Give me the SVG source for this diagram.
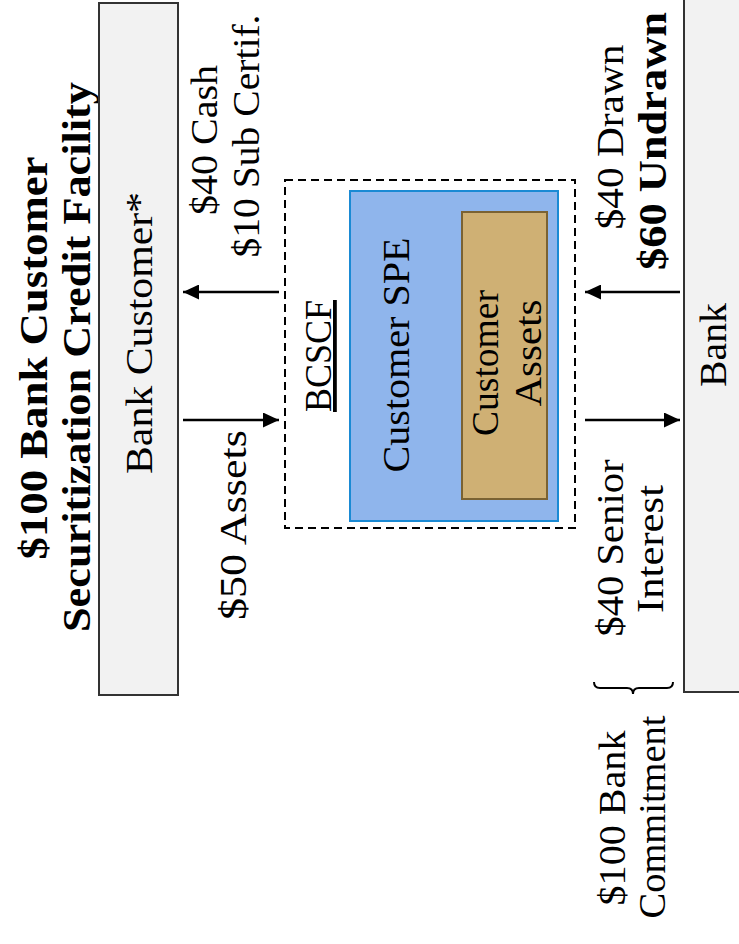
<svg xmlns="http://www.w3.org/2000/svg" width="739" height="944" viewBox="0 0 739 944">
<style>
text{font-family:"Liberation Serif","Times New Roman",serif;fill:#000;text-anchor:middle}
.r{font-size:38px}
.b{font-size:40px;font-weight:bold}
.box{fill:#f2f2f2;stroke:#333;stroke-width:2}
.arr{stroke:#000;stroke-width:2.5;fill:none;marker-end:url(#ah)}
</style>
<defs>
<marker id="ah" markerWidth="16" markerHeight="15" refX="16" refY="7.5" orient="auto" markerUnits="userSpaceOnUse">
<path d="M0,0 L16,7.5 L0,15 Z" fill="#000"/>
</marker>
</defs>
<rect width="739" height="944" fill="#fff"/>
<g id="title">
<text class="b" transform="translate(47,358) rotate(-90)" textLength="403" lengthAdjust="spacingAndGlyphs">$100 Bank Customer</text>
<text class="b" transform="translate(90,357) rotate(-90)" textLength="550" lengthAdjust="spacingAndGlyphs">Securitization Credit Facility</text>
</g>
<g id="bank-customer">
<rect class="box" x="99" y="3" width="79" height="692"/>
<text class="r" transform="translate(152,333) rotate(-90)" textLength="282" lengthAdjust="spacingAndGlyphs">Bank Customer*</text>
</g>
<g id="bcscf">
<rect x="285" y="180" width="290" height="348" fill="none" stroke="#000" stroke-width="2" stroke-dasharray="8,5"/>
<text class="r" transform="translate(331,356) rotate(-90)" textLength="112" lengthAdjust="spacingAndGlyphs" text-decoration="underline">BCSCF</text>
</g>
<g id="customer-spe">
<rect x="350" y="191" width="208" height="330" fill="#8fb5ec" stroke="#1a8ad4" stroke-width="2"/>
<text class="r" transform="translate(409,355) rotate(-90)" textLength="235" lengthAdjust="spacingAndGlyphs">Customer SPE</text>
</g>
<g id="customer-assets">
<rect x="462" y="212" width="85" height="287" fill="#cfb074" stroke="#7a6233" stroke-width="2"/>
<text class="r" transform="translate(498,363) rotate(-90)" textLength="146" lengthAdjust="spacingAndGlyphs">Customer</text>
<text class="r" transform="translate(541,353) rotate(-90)" textLength="107" lengthAdjust="spacingAndGlyphs">Assets</text>
</g>
<g id="bank">
<rect class="box" x="684" y="-3" width="70" height="695"/>
<text class="r" transform="translate(726,345) rotate(-90)" textLength="84" lengthAdjust="spacingAndGlyphs">Bank</text>
</g>
<g id="connectors">
<line class="arr" x1="279" y1="292" x2="183" y2="292"/>
<line class="arr" x1="183" y1="420" x2="279" y2="420"/>
<line class="arr" x1="680" y1="292" x2="585" y2="292"/>
<line class="arr" x1="585" y1="420" x2="680" y2="420"/>
<path d="M594,682 Q594,688 600,688 L627,688 Q633,688 633,694 Q633,688 639,688 L667,688 Q673,688 673,682" fill="none" stroke="#000" stroke-width="2"/>
</g>
<g id="labels">
<text class="r" transform="translate(217,140) rotate(-90)" textLength="150" lengthAdjust="spacingAndGlyphs">$40 Cash</text>
<text class="r" transform="translate(259,136) rotate(-90)" textLength="243" lengthAdjust="spacingAndGlyphs">$10 Sub Certif.</text>
<text class="r" transform="translate(246,525) rotate(-90)" textLength="190" lengthAdjust="spacingAndGlyphs">$50 Assets</text>
<text class="r" transform="translate(623,137) rotate(-90)" textLength="185" lengthAdjust="spacingAndGlyphs">$40 Drawn</text>
<text class="b" transform="translate(666,141) rotate(-90)" textLength="258" lengthAdjust="spacingAndGlyphs">$60 Undrawn</text>
<text class="r" transform="translate(623,548) rotate(-90)" textLength="177" lengthAdjust="spacingAndGlyphs">$40 Senior</text>
<text class="r" transform="translate(663,549) rotate(-90)" textLength="128" lengthAdjust="spacingAndGlyphs">Interest</text>
<text class="r" transform="translate(625,818) rotate(-90)" textLength="175" lengthAdjust="spacingAndGlyphs">$100 Bank</text>
<text class="r" transform="translate(665,817) rotate(-90)" textLength="203" lengthAdjust="spacingAndGlyphs">Commitment</text>
</g>
</svg>
